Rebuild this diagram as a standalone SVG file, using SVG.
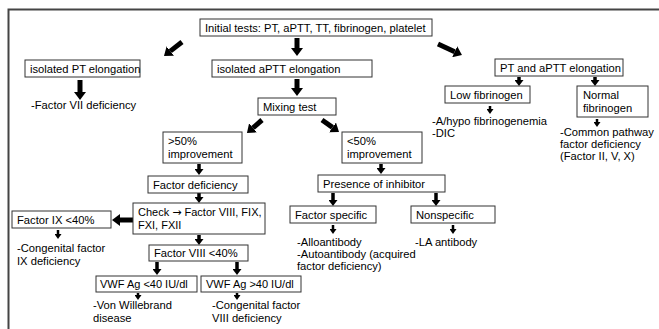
<svg xmlns="http://www.w3.org/2000/svg" width="659" height="329" viewBox="0 0 659 329">
<style>
text{font-family:"Liberation Sans",Arial,sans-serif;font-size:11.2px;fill:#000}
.sm{font-size:11px}
.arr{font-family:"DejaVu Sans",sans-serif;font-size:11px}
.box{fill:#fff;stroke:#333;stroke-width:1}
.frame{fill:none;stroke:#444;stroke-width:2}
.a1{stroke:#000;stroke-width:5;fill:none}
.a2{stroke:#000;stroke-width:3.5;fill:none}
.a3{stroke:#000;stroke-width:2.5;fill:none}
</style>
<defs>
<marker id="hb" markerUnits="userSpaceOnUse" markerWidth="8" markerHeight="12" refX="0" refY="6" orient="auto"><path d="M0,0L8,6L0,12z" fill="#000"/></marker>
<marker id="hm" markerUnits="userSpaceOnUse" markerWidth="6" markerHeight="9" refX="0" refY="4.5" orient="auto"><path d="M0,0L6,4.5L0,9z" fill="#000"/></marker>
<marker id="hs" markerUnits="userSpaceOnUse" markerWidth="5" markerHeight="7" refX="0" refY="3.5" orient="auto"><path d="M0,0L5,3.5L0,7z" fill="#000"/></marker>
</defs>
<rect width="659" height="329" fill="#fff"/>
<path class="frame" d="M8.5,329V9.5H659"/>
<g id="connectors">
<line class="a1" x1="297" y1="38" x2="297" y2="48" marker-end="url(#hb)"/>
<line class="a1" x1="182" y1="42" x2="170.3" y2="51.1" marker-end="url(#hb)"/>
<line class="a1" x1="438" y1="44" x2="454.7" y2="51.7" marker-end="url(#hb)"/>
<line class="a1" x1="80" y1="80" x2="80" y2="92" marker-end="url(#hb)"/>
<line class="a1" x1="297" y1="79" x2="297" y2="88" marker-end="url(#hb)"/>
<line class="a1" x1="262" y1="120" x2="253" y2="127.8" marker-end="url(#hb)"/>
<line class="a1" x1="322" y1="120" x2="332.5" y2="127.4" marker-end="url(#hb)"/>
<line class="a2" x1="199" y1="164" x2="199" y2="169" marker-end="url(#hm)"/>
<line class="a2" x1="199" y1="193" x2="199" y2="197" marker-end="url(#hm)"/>
<line class="a1" x1="133" y1="220" x2="120" y2="220" marker-end="url(#hb)"/>
<line class="a2" x1="199" y1="235" x2="199" y2="239" marker-end="url(#hm)"/>
<line class="a3" x1="58" y1="230" x2="58" y2="234" marker-end="url(#hs)"/>
<line class="a2" x1="157" y1="262" x2="157" y2="269" marker-end="url(#hm)"/>
<line class="a2" x1="237" y1="262" x2="237" y2="269" marker-end="url(#hm)"/>
<line class="a3" x1="138" y1="293" x2="138" y2="295" marker-end="url(#hs)"/>
<line class="a3" x1="237" y1="293" x2="237" y2="295" marker-end="url(#hs)"/>
<line class="a2" x1="519" y1="77" x2="519" y2="80" marker-end="url(#hm)"/>
<line class="a2" x1="595" y1="77" x2="595" y2="80" marker-end="url(#hm)"/>
<line class="a3" x1="490" y1="106" x2="490" y2="109" marker-end="url(#hs)"/>
<line class="a3" x1="597" y1="119" x2="597" y2="122" marker-end="url(#hs)"/>
<line class="a2" x1="381" y1="164" x2="381" y2="168" marker-end="url(#hm)"/>
<line class="a2" x1="333" y1="193" x2="333" y2="200" marker-end="url(#hm)"/>
<line class="a2" x1="436" y1="193" x2="436" y2="200" marker-end="url(#hm)"/>
<line class="a3" x1="333" y1="225" x2="333" y2="229" marker-end="url(#hs)"/>
<line class="a3" x1="453" y1="225" x2="453" y2="229" marker-end="url(#hs)"/>
</g>
<g id="initial"><rect class="box" x="200" y="19" width="232" height="17"/><text x="205" y="31.5">Initial tests: PT, aPTT, TT, fibrinogen, platelet</text></g>
<g id="isoPT"><rect class="box" x="25" y="60" width="115" height="17"/><text x="30" y="72.5">isolated PT elongation</text></g>
<g id="isoPTresult"><text x="31" y="109">-Factor VII deficiency</text></g>
<g id="isoAPTT"><rect class="box" x="212" y="60" width="160" height="17"/><text x="217" y="72.5">isolated aPTT elongation</text></g>
<g id="ptaptt"><rect class="box" x="495" y="59" width="128" height="17"/><text x="500" y="71.5">PT and aPTT elongation</text></g>
<g id="mixing"><rect class="box" x="258" y="98" width="78" height="17"/><text x="263" y="110.5">Mixing test</text></g>
<g id="lowfib"><rect class="box" x="445" y="86" width="85" height="17"/><text x="450" y="98.5">Low fibrinogen</text></g>
<g id="lowfibresult"><text x="432" y="125">-A/hypo fibrinogenemia</text><text x="432" y="137">-DIC</text></g>
<g id="normfib"><rect class="box" x="577" y="86" width="71" height="31"/><text x="583" y="98.5">Normal</text><text x="583" y="111.5">fibrinogen</text></g>
<g id="normfibresult"><text x="560" y="136">-Common pathway</text><text x="560" y="148">factor deficiency</text><text x="560" y="160">(Factor II, V, X)</text></g>
<g id="gt50"><rect class="box" x="163" y="132" width="79" height="31"/><text x="168" y="144.5">&gt;50%</text><text x="168" y="157.5">improvement</text></g>
<g id="lt50"><rect class="box" x="342" y="132" width="80" height="31"/><text x="347" y="144.5">&lt;50%</text><text x="347" y="157.5">improvement</text></g>
<g id="factordef"><rect class="box" x="148" y="176" width="100" height="17"/><text x="153" y="188.5">Factor deficiency</text></g>
<g id="presence"><rect class="box" x="318" y="175" width="127" height="17"/><text x="323" y="187.5">Presence of inhibitor</text></g>
<g id="check"><rect class="box" x="133" y="203" width="132" height="31"/><text class="sm" x="138" y="215.5">Check <tspan class="arr">→</tspan> Factor VIII, FIX,</text><text class="sm" x="138" y="229">FXI, FXII</text></g>
<g id="fix"><rect class="box" x="12" y="211" width="99" height="17"/><text x="17" y="223.5">Factor IX &lt;40%</text></g>
<g id="fixresult"><text x="17" y="252">-Congenital factor</text><text x="17" y="264.5">IX deficiency</text></g>
<g id="facspec"><rect class="box" x="290" y="206" width="86" height="17"/><text x="295" y="218.5">Factor specific</text></g>
<g id="facspecresult"><text x="297" y="246">-Alloantibody</text><text x="297" y="258">-Autoantibody (acquired</text><text x="297" y="270">factor deficiency)</text></g>
<g id="nonspec"><rect class="box" x="411" y="206" width="84" height="17"/><text x="416" y="218.5">Nonspecific</text></g>
<g id="nonspecresult"><text x="415" y="246">-LA antibody</text></g>
<g id="f8"><rect class="box" x="149" y="245" width="99" height="16"/><text x="154" y="257">Factor VIII &lt;40%</text></g>
<g id="vwf1"><rect class="box" x="96" y="276" width="101" height="16"/><text class="sm" x="100" y="288">VWF Ag &lt;40 IU/dl</text></g>
<g id="vwf1result"><text x="93" y="308.5">-Von Willebrand</text><text x="93" y="321.5">disease</text></g>
<g id="vwf2"><rect class="box" x="201" y="276" width="100" height="16"/><text class="sm" x="206" y="288">VWF Ag &gt;40 IU/dl</text></g>
<g id="vwf2result"><text x="212" y="308.5">-Congenital factor</text><text x="212" y="321.5">VIII deficiency</text></g>
</svg>
